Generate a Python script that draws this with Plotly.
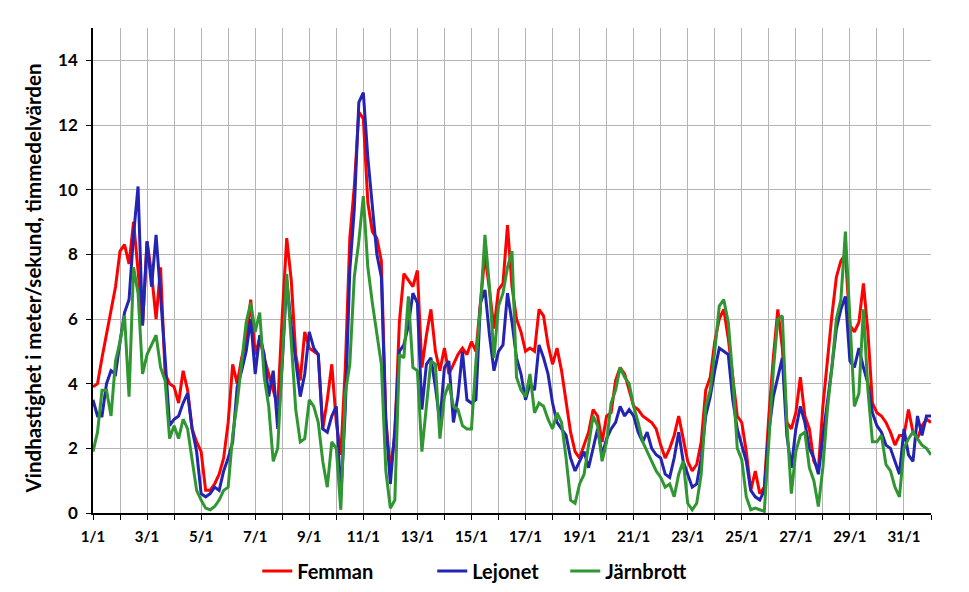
import pandas as pd
import plotly.graph_objects as go

# Hourly-mean wind speed (m/s), read every 4 hours, January
femman = [
    3.9, 4.0, 4.8, 5.5, 6.3, 7.0,
    8.1, 8.3, 7.7, 9.0, 7.5, 5.8,
    8.4, 7.4, 6.0, 7.6, 4.3, 4.0,
    3.9, 3.4, 4.4, 3.8, 2.6, 2.2,
    1.9, 0.7, 0.7, 0.9, 1.2, 1.7,
    2.8, 4.6, 4.0, 4.8, 5.3, 6.6,
    4.9, 5.4, 4.8, 4.3, 3.8, 3.3,
    6.1, 8.5, 7.2, 4.9, 4.1, 5.6,
    5.1, 5.0, 4.9, 2.6, 3.5, 4.6,
    2.8, 1.8, 4.5, 8.5, 10.1, 12.4,
    12.2, 9.6, 8.7, 8.5, 7.8, 2.9,
    1.3, 2.4, 5.9, 7.4, 7.2, 7.0,
    7.5, 4.5, 5.5, 6.3, 5.0, 4.4,
    5.1, 4.3, 4.6, 4.9, 5.1, 4.9,
    5.3, 5.0, 6.5, 8.0, 6.9, 5.7,
    6.9, 7.1, 8.9, 7.0, 6.0, 5.6,
    5.0, 5.1, 5.0, 6.3, 6.1, 5.2,
    4.6, 5.1, 4.4, 3.4, 2.5, 1.9,
    1.7, 2.1, 2.5, 3.2, 3.0, 2.2,
    3.0, 3.1, 4.1, 4.5, 4.3, 3.8,
    3.3, 3.2, 3.0, 2.9, 2.8, 2.6,
    2.1, 1.7, 2.0, 2.4, 3.0, 2.3,
    1.6, 1.3, 1.5, 2.2, 3.8, 4.2,
    5.3, 6.0, 6.3, 5.4, 4.1, 3.0,
    2.8, 1.9, 0.7, 1.3, 0.6, 0.8,
    3.0, 4.8, 6.3, 5.1, 2.8, 2.6,
    3.1, 4.2, 3.0, 2.6, 1.6, 1.35,
    3.3, 4.8, 6.1, 7.3, 7.8, 8.0,
    5.8, 5.6, 5.9, 7.1, 5.6, 3.4,
    3.1, 3.0, 2.8, 2.5, 2.1, 2.4,
    2.4, 3.2, 2.5, 2.3, 2.7, 2.9,
    2.8,
]

lejonet = [
    3.5, 3.0, 3.0, 4.0, 4.4, 4.3,
    5.3, 6.2, 6.6, 8.6, 10.1, 5.8,
    8.4, 7.0, 8.6, 6.8, 4.8, 2.7,
    2.9, 3.0, 3.4, 3.7, 2.6, 1.9,
    0.6, 0.5, 0.6, 0.8, 0.7, 1.3,
    1.7, 2.2, 3.9, 4.4, 5.0, 6.0,
    4.3, 5.5, 4.9, 3.6, 4.4, 2.6,
    4.6, 7.2, 5.8, 4.7, 3.6, 4.3,
    5.6, 5.1, 4.9, 2.6, 2.5, 3.0,
    3.3, 0.5, 3.2, 7.5, 9.4, 12.7,
    13.0, 11.0, 9.4, 8.0, 7.3, 2.8,
    0.9, 2.6, 5.0, 5.2, 5.8, 6.8,
    6.5, 3.2, 4.6, 4.8, 3.9, 2.8,
    4.5, 4.7, 2.8, 3.6, 5.0, 3.5,
    3.4, 3.5, 6.5, 6.9, 5.5, 4.4,
    5.0, 5.2, 6.8, 5.9, 4.8, 4.3,
    3.5, 4.0, 3.8, 5.2, 4.8, 4.3,
    3.4, 2.8, 2.6, 2.4, 1.7, 1.3,
    1.6, 1.9, 1.4, 2.0, 2.6, 1.8,
    2.3, 2.6, 2.8, 3.3, 3.0, 3.2,
    3.0, 2.5, 2.2, 2.5, 2.0, 1.8,
    1.7, 1.2, 1.1, 1.7, 2.5, 1.6,
    1.2, 0.8, 0.9, 1.7, 3.0, 3.6,
    4.4, 5.1, 5.0, 4.9, 3.5, 2.6,
    2.1, 1.6, 0.7, 0.5, 0.4, 0.7,
    2.5, 3.6, 4.2, 4.8, 2.4, 1.4,
    2.6, 3.3, 2.8, 2.0, 1.7, 1.2,
    2.35, 3.4, 4.5, 5.7, 6.3, 6.7,
    4.7, 4.5, 5.1, 4.5, 4.0, 3.1,
    2.7, 2.5, 2.1, 2.0, 1.6, 1.2,
    2.6, 1.8, 1.6, 3.0, 2.4, 3.0,
    3.0,
]

jarnbrott = [
    1.9, 2.5, 3.8, 3.8, 3.0, 4.7,
    5.3, 6.1, 3.6, 7.6, 6.8, 4.3,
    4.9, 5.2, 5.5, 4.5, 4.1, 2.3,
    2.7, 2.3, 2.9, 2.6, 1.6, 0.7,
    0.4, 0.15, 0.1, 0.2, 0.4, 0.7,
    0.8, 2.4, 3.4, 4.6, 5.9, 6.5,
    5.6, 6.2, 4.2, 3.3, 1.6, 2.0,
    4.6, 7.4, 5.3, 3.2, 2.2, 2.3,
    3.5, 3.3, 2.8, 1.6, 0.8, 2.2,
    2.0, 0.1, 3.7, 4.6, 7.3, 8.4,
    9.8, 7.6, 6.5, 5.5, 4.6, 1.3,
    0.15, 0.4, 4.9, 4.8, 6.7, 4.5,
    4.4, 1.9, 3.2, 4.7, 4.6, 2.3,
    3.6, 4.0, 3.3, 3.2, 2.7, 2.6,
    2.6, 4.7, 6.4, 8.6, 7.0, 4.8,
    6.4, 6.8, 7.6, 8.1, 4.2, 3.8,
    3.6, 4.3, 3.1, 3.4, 3.3, 2.9,
    2.6, 3.1, 2.8, 1.7, 0.4, 0.3,
    0.9, 1.2, 2.1, 3.0, 2.7, 1.6,
    2.2, 3.4, 3.8, 4.5, 4.2, 4.0,
    3.3, 2.8, 2.2, 1.9, 1.6, 1.3,
    1.1, 0.8, 0.9, 0.5, 1.2, 1.6,
    0.3, 0.1, 0.3, 1.2, 3.3, 3.8,
    5.0, 6.4, 6.6, 5.9, 4.2, 2.0,
    1.65, 0.5, 0.1, 0.15, 0.1, 0.05,
    2.2, 4.4, 6.0, 6.1, 2.8, 0.6,
    1.9, 2.4, 2.5, 1.4, 1.0, 0.2,
    1.4, 3.2, 4.5, 6.0, 6.6, 8.7,
    6.0, 3.3, 3.7, 6.3, 3.8, 2.2,
    2.2, 2.4, 1.5, 1.3, 0.8, 0.5,
    2.0, 2.3, 2.5, 2.3, 2.1, 2.0,
    1.8,
]

series_names = ["Femman", "Lejonet", "Järnbrott"]
series_colors = ["#ff0000", "#2424b2", "#2f9632"]
legend_widths = [130, 88, 115]

tick_labels = ["1/1", "", "3/1", "", "5/1", "", "7/1", "", "9/1", "",
               "11/1", "", "13/1", "", "15/1", "", "17/1", "", "19/1", "",
               "21/1", "", "23/1", "", "25/1", "", "27/1", "", "29/1", "",
               "31/1", ""]
y_ticks = [0, 2, 4, 6, 8, 10, 12, 14]

times = pd.date_range("2015-01-01", periods=len(femman), freq="4h")
day_ticks = pd.date_range("2015-01-01", periods=len(tick_labels), freq="D")

fig = go.Figure()
for name, color, vals, lw in zip(series_names, series_colors,
                                 [femman, lejonet, jarnbrott], legend_widths):
    fig.add_trace(go.Scatter(x=times, y=vals, mode="lines", name=name,
                             legendwidth=lw,
                             line=dict(color=color, width=3)))

font_family = "Lato, 'DejaVu Sans', sans-serif"
fig.update_layout(
    width=961, height=584,
    margin=dict(l=85, r=38, t=20, b=79, autoexpand=False),
    paper_bgcolor="white", plot_bgcolor="white",
    font=dict(family=font_family, color="black"),
    showlegend=True,
    legend=dict(orientation="h", x=0.196, xanchor="left",
                yref="container", y=0.036, yanchor="middle",
                font=dict(size=20, weight="bold", family=font_family),
                itemwidth=30),
    xaxis=dict(range=[day_ticks[0], day_ticks[-1]], tickmode="array",
               tickvals=day_ticks, ticktext=tick_labels, automargin=False,
               showgrid=True, gridcolor="#b5b5b5", gridwidth=1,
               showline=True, linecolor="black", linewidth=1.5,
               ticks="outside", ticklen=5, tickcolor="black",
               ticklabelstandoff=4,
               tickfont=dict(size=15, weight="bold", family=font_family)),
    yaxis=dict(range=[0, 15], tickmode="array", tickvals=y_ticks, automargin=False,
               showgrid=True, gridcolor="#b5b5b5", gridwidth=1, zeroline=False,
               showline=True, linecolor="black", linewidth=1.5,
               ticks="outside", ticklen=5, tickcolor="black",
               ticklabelstandoff=5,
               tickfont=dict(size=17, weight="bold", family=font_family)),
    annotations=[dict(text="Vindhastighet i meter/sekund, timmedelvärden",
                      xref="paper", yref="paper", x=-0.0716, y=0.4835,
                      xanchor="center", yanchor="middle", textangle=-90,
                      showarrow=False,
                      font=dict(size=20.5, weight="bold", family=font_family))],
)

fig.write_html("out.html")
